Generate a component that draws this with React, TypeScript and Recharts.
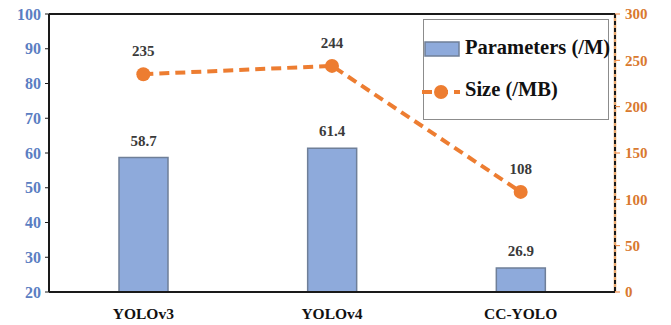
import React from "react";
import {
  ComposedChart,
  Bar,
  Line,
  XAxis,
  YAxis,
  LabelList,
  usePlotArea,
} from "recharts";

const models = ["YOLOv3", "YOLOv4", "CC-YOLO"];
const paramsM = [58.7, 61.4, 26.9];
const sizeMB = [235, 244, 108];
const leftTicks = [20, 30, 40, 50, 60, 70, 80, 90, 100];
const rightTicks = [0, 50, 100, 150, 200, 250, 300];

const data = models.map((name, i) => ({ name, params: paramsM[i], size: sizeMB[i] }));

const SERIF = "'Liberation Serif', 'Times New Roman', serif";
const BAR_FILL = "#8eaadb";
const BAR_STROKE = "#6f7f98";
const ORANGE = "#ed7d31";

// top border and the two-tone dashed right edge of the plot frame
function Frame() {
  const area = usePlotArea();
  if (!area) return null;
  const { x, y, width, height } = area;
  const r = x + width;
  return (
    <g>
      <line x1={x} y1={y} x2={r} y2={y} stroke="#1a1a1a" strokeWidth={2} />
      <line x1={r} y1={y} x2={r} y2={y + height} stroke="#e9a66a" strokeWidth={2.5} />
      <line x1={r} y1={y} x2={r} y2={y + height} stroke="#1a1a1a" strokeWidth={2} strokeDasharray="4 3" />
    </g>
  );
}

function LegendBox() {
  return (
    <div
      style={{
        position: "absolute",
        left: 423,
        top: 19,
        width: 186,
        height: 101,
        border: "1px solid #8c8c8c",
        background: "#fff",
        fontFamily: SERIF,
        fontWeight: "bold",
        fontSize: 20.5,
        color: "#111",
        boxSizing: "border-box",
      }}
    >
      <svg width={40} height={101} style={{ position: "absolute", left: -2, top: 0, overflow: "visible" }}>
        <rect x={3} y={22} width={34} height={14} fill={BAR_FILL} stroke={BAR_STROKE} strokeWidth={1.5} />
        <line x1={0} y1={72} x2={38} y2={72} stroke={ORANGE} strokeWidth={4} strokeDasharray="10 6" />
        <circle cx={19} cy={72} r={7} fill={ORANGE} />
      </svg>
      <div style={{ position: "absolute", left: 41, top: 16, whiteSpace: "nowrap" }}>Parameters (/M)</div>
      <div style={{ position: "absolute", left: 41, top: 58, whiteSpace: "nowrap" }}>Size (/MB)</div>
    </div>
  );
}

export default function App() {
  return (
    <div style={{ position: "fixed", left: 0, top: 0, width: 671, height: 325, background: "#fff" }}>
      <ComposedChart width={671} height={325} data={data} margin={{ top: 14, right: 10, left: 0, bottom: 8 }}>
        <XAxis
          dataKey="name"
          height={25}
          axisLine={{ stroke: "#1a1a1a", strokeWidth: 2 }}
          tickLine={false}
          tickMargin={10}
          tick={{ fontFamily: SERIF, fontWeight: "bold", fontSize: 15.5, fill: "#111" }}
        />
        <YAxis
          yAxisId="left"
          width={49}
          domain={[20, 100]}
          ticks={leftTicks}
          axisLine={{ stroke: "#1a1a1a", strokeWidth: 2 }}
          tickLine={{ stroke: "#1a1a1a" }}
          tickSize={4}
          tickMargin={4}
          tick={{ fontFamily: SERIF, fontWeight: "bold", fontSize: 16, fill: "#5b7ec2" }}
        />
        <YAxis
          yAxisId="right"
          orientation="right"
          width={46}
          domain={[0, 300]}
          ticks={rightTicks}
          axisLine={false}
          tickLine={{ stroke: ORANGE }}
          tickSize={5}
          tickMargin={5}
          tick={{ fontFamily: SERIF, fontWeight: "bold", fontSize: 15, fill: "#d9792f" }}
        />
        <Frame />
        <Bar
          yAxisId="left"
          dataKey="params"
          name="Parameters (/M)"
          barSize={49}
          fill={BAR_FILL}
          stroke={BAR_STROKE}
          strokeWidth={1.5}
          isAnimationActive={false}
        >
          <LabelList
            dataKey="params"
            position="top"
            offset={12}
            style={{ fontFamily: SERIF, fontWeight: "bold", fontSize: 15, fill: "#3a3a3a" }}
          />
        </Bar>
        <Line
          yAxisId="right"
          dataKey="size"
          name="Size (/MB)"
          stroke={ORANGE}
          strokeWidth={4}
          strokeDasharray="10 6"
          dot={{ r: 7, fill: ORANGE, stroke: ORANGE, strokeWidth: 0 }}
          activeDot={false}
          isAnimationActive={false}
        >
          <LabelList
            dataKey="size"
            position="top"
            offset={18}
            style={{ fontFamily: SERIF, fontWeight: "bold", fontSize: 15, fill: "#3a3a3a" }}
          />
        </Line>
      </ComposedChart>
      <LegendBox />
    </div>
  );
}
